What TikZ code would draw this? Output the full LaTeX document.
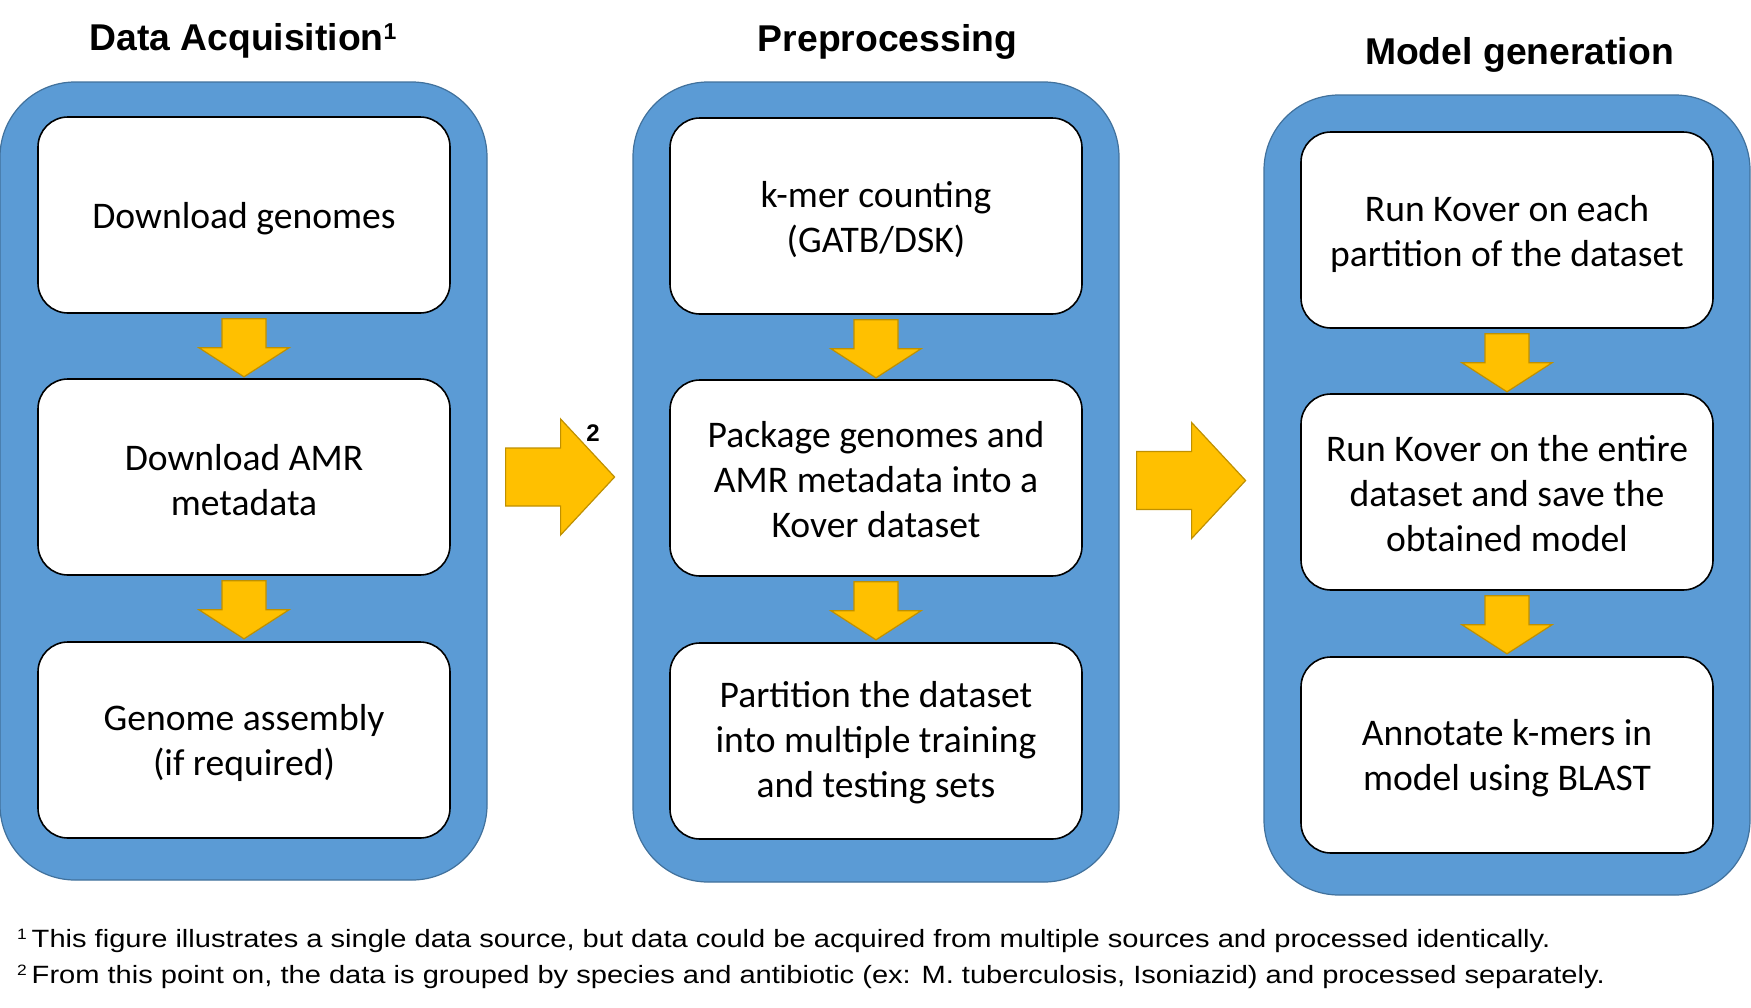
\documentclass[tikz,border=0pt]{standalone}
\usepackage{fontspec}
\setmainfont{Carlito}
\newfontfamily\arialf{Liberation Sans}
\usetikzlibrary{calc}
\definecolor{panelblue}{RGB}{91,155,213}
\definecolor{paneledge}{RGB}{65,113,156}
\definecolor{arrowfill}{RGB}{255,192,0}
\definecolor{arrowedge}{RGB}{191,144,0}
\begin{document}
\begin{tikzpicture}[x=1pt,y=-1pt,
 panel/.style={draw=paneledge, line width=1.2pt, fill=panelblue, rounded corners=75pt, minimum width=486pt, minimum height=800pt, inner sep=0pt},
 stepbox/.style={draw=black, line width=1.6pt, fill=white, rounded corners=30pt, minimum width=412pt, minimum height=196pt, inner sep=0pt},
 steptext/.style={align=center, font=\fontsize{37.6}{45}\selectfont, inner sep=0pt},
 title/.style={font=\arialf\bfseries\fontsize{37.3}{44}\selectfont, anchor=base, inner sep=0pt},
 yarrow/.style={draw=arrowedge, line width=1.2pt, fill=arrowfill, line join=miter},
 note/.style={font=\arialf\fontsize{25}{30}\selectfont, anchor=base west, inner sep=0pt},
 downblk/.pic={\draw[yarrow] (-22,0) -- (22,0) -- (22,29) -- (45,29) -- (0,58) -- (-45,29) -- (-22,29) -- cycle;},
 rightblk/.pic={\draw[yarrow] (0,-29) -- (55,-29) -- (55,-58) -- (109,0) -- (55,58) -- (55,29) -- (0,29) -- cycle;}
]
\useasboundingbox (0,0) rectangle (1751,1007);
% panels
\node[panel, minimum width=487pt, minimum height=798pt] (p1) at (243.5,481) {};
\node[panel] (p2) at (876,482) {};
\node[panel] (p3) at (1507,495) {};
% titles
\node[title] (t1) at (243,50.5) {Data Acquisition{\fontsize{23}{23}\selectfont\raisebox{11.5pt}{1}}};
\node[title] (t2) at (887.5,51) {Preprocessing};
\node[title] (t3) at (1519.5,64) {Model generation};
% boxes panel 1
\node[stepbox] (a1) at (244,215) {};
\node[stepbox] (a2) at (244,477) {};
\node[stepbox] (a3) at (244,740) {};
% boxes panel 2
\node[stepbox] (b1) at (876,216) {};
\node[stepbox] (b2) at (876,478) {};
\node[stepbox] (b3) at (876,741) {};
% boxes panel 3
\node[stepbox] (c1) at (1507,230) {};
\node[stepbox] (c2) at (1507,492) {};
\node[stepbox] (c3) at (1507,755) {};
% box texts
\node[steptext] (a1t) at ($(a1.center)+(0,4)$) {Download genomes};
\node[steptext] (a2t) at ($(a2.center)+(0,3)$) {Download AMR\\metadata};
\node[steptext] (a3t) at ($(a3.center)+(0,3)$) {Genome assembly\\(if required)};
\node[steptext] (b1t) at ($(b1.center)+(0,4)$) {k-mer counting\\(GATB/DSK)};
\node[steptext] (b2t) at ($(b2.center)+(0,2)$) {Package genomes and\\AMR metadata into a\\Kover dataset};
\node[steptext] (b3t) at ($(b3.center)+(0,2)$) {Partition the dataset\\into multiple training\\and testing sets};
\node[steptext] (c1t) at ($(c1.center)+(0,4)$) {Run Kover on each\\partition of the dataset};
\node[steptext] (c2t) at ($(c2.center)+(0,2)$) {Run Kover on the entire\\dataset and save the\\obtained model};
\node[steptext] (c3t) at ($(c3.center)+(0,3)$) {Annotate k-mers in\\model using BLAST};
% down arrows
\pic at ($(a1.south)+(0,5)$) {downblk};
\pic at ($(a2.south)+(0,5)$) {downblk};
\pic at ($(b1.south)+(0,5)$) {downblk};
\pic at ($(b2.south)+(0,5)$) {downblk};
\pic at ($(c1.south)+(0,5)$) {downblk};
\pic at ($(c2.south)+(0,5)$) {downblk};
% right arrows
\pic at ($(p1.east)+(18,-4)$) {rightblk};
\pic at ($(p2.east)+(17,-1.5)$) {rightblk};
\node[font=\arialf\bfseries\fontsize{24}{24}\selectfont, inner sep=0pt] (n2) at (593,433) {2};
% footnotes
\node[note] (f1) at (17,947) {\scalebox{1.163}[1]{{\fontsize{15}{15}\selectfont\raisebox{8pt}{1}}\,This figure illustrates a single data source, but data could be acquired from multiple sources and processed identically.}};
\node[note] (f2) at (17,983) {\scalebox{1.163}[1]{{\fontsize{15}{15}\selectfont\raisebox{8pt}{2}}\,From this point on, the data is grouped by species and antibiotic (ex: M. tuberculosis, Isoniazid) and processed separately.}};
\end{tikzpicture}
\end{document}
